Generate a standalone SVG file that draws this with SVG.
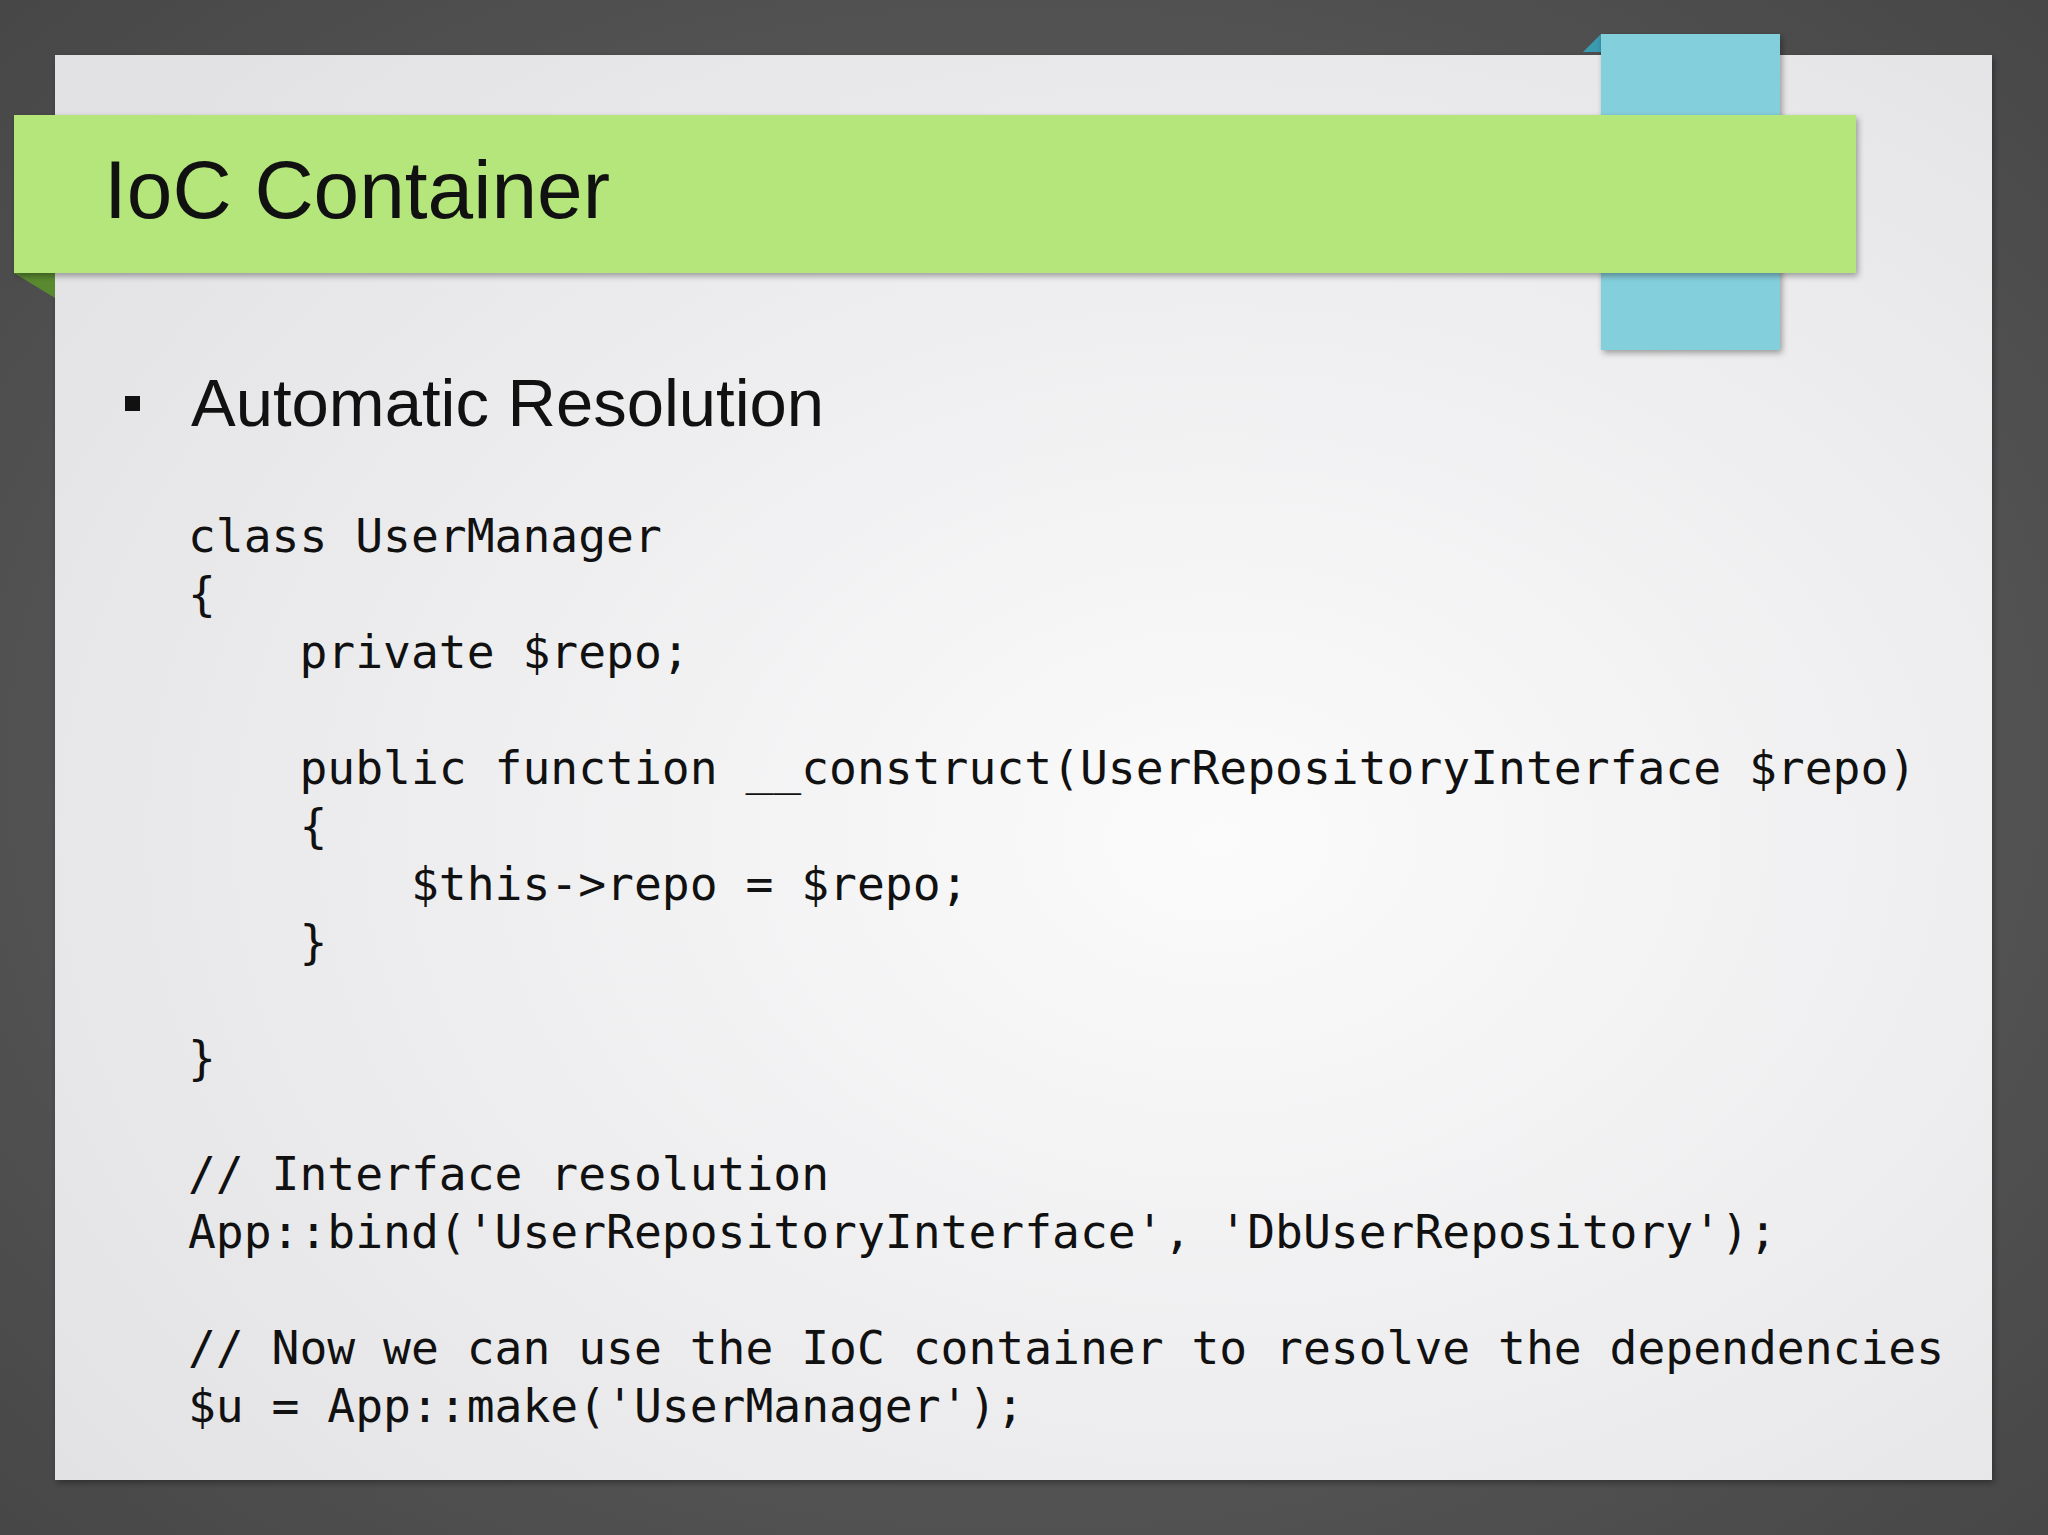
<svg xmlns="http://www.w3.org/2000/svg" width="2048" height="1535" viewBox="0 0 2048 1535">
<defs>
<radialGradient id="bg" cx="50%" cy="50%" r="70%"><stop offset="0" stop-color="#6a6a6a"/><stop offset="1" stop-color="#474747"/></radialGradient>
<radialGradient id="panel" cx="60%" cy="55%" r="75%"><stop offset="0" stop-color="#fbfbfc"/><stop offset="1" stop-color="#e2e2e4"/></radialGradient>
<filter id="sh" x="-5%" y="-5%" width="110%" height="120%"><feDropShadow dx="2" dy="3" stdDeviation="3" flood-color="#000" flood-opacity="0.35"/></filter>
<style>
.code{font-family:"DejaVu Sans Mono",monospace;font-size:46.3px;fill:#111;white-space:pre}
</style>
</defs>
<rect width="2048" height="1535" fill="url(#bg)"/>
<rect x="55" y="55" width="1937" height="1425" fill="url(#panel)" filter="url(#sh)"/>
<g id="blue">
<polygon points="1583,52 1601,34 1601,52" fill="#3a9ab0"/>
<rect x="1601" y="34" width="179" height="316" fill="#84cfdc" filter="url(#sh)"/>
</g>
<g id="title">
<polygon points="14,273 55,273 55,298" fill="#5a8a30"/>
<rect x="14" y="115" width="1842" height="158" fill="#b4e67c" filter="url(#sh)"/>
<text x="104" y="218" font-family="Liberation Sans, Arial, sans-serif" font-size="82" fill="#111">IoC Container</text>
</g>
<g id="bullet">
<rect x="125" y="396" width="15" height="15" fill="#111"/>
<text x="191" y="426" font-family="Liberation Sans, Arial, sans-serif" font-size="67" fill="#111">Automatic Resolution</text>
</g>
<g id="code" class="code">
<text class="code" x="188" y="552">class UserManager</text>
<text class="code" x="188" y="610">{</text>
<text class="code" x="188" y="668" xml:space="preserve">    private $repo;</text>
<text class="code" x="188" y="784" xml:space="preserve">    public function __construct(UserRepositoryInterface $repo)</text>
<text class="code" x="188" y="842" xml:space="preserve">    {</text>
<text class="code" x="188" y="900" xml:space="preserve">        $this-&gt;repo = $repo;</text>
<text class="code" x="188" y="958" xml:space="preserve">    }</text>
<text class="code" x="188" y="1074">}</text>
<text class="code" x="188" y="1190">// Interface resolution</text>
<text class="code" x="188" y="1248">App::bind('UserRepositoryInterface', 'DbUserRepository');</text>
<text class="code" x="188" y="1364">// Now we can use the IoC container to resolve the dependencies</text>
<text class="code" x="188" y="1422">$u = App::make('UserManager');</text>
</g>
<g id="connectors"/>
</svg>
